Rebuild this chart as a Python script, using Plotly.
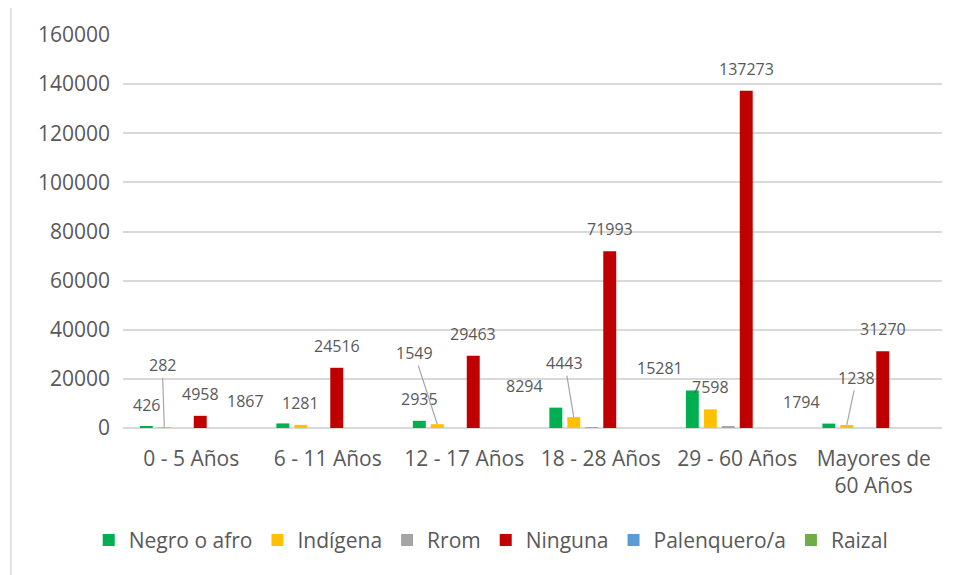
import plotly.graph_objects as go

# Categorías (grupos de edad)
categorias = ["0 - 5 Años", "6 - 11 Años", "12 - 17 Años", "18 - 28 Años",
              "29 - 60 Años", "Mayores de<br>60 Años"]

# Series por grupo étnico
negro_o_afro = [426, 1867, 2935, 8294, 15281, 1794]
indigena = [282, 1281, 1549, 4443, 7598, 1238]
rrom = [0, 0, 0, 200, 800, 0]
ninguna = [4958, 24516, 29463, 71993, 137273, 31270]
palenquero = [0, 0, 0, 0, 0, 0]
raizal = [0, 0, 0, 0, 0, 0]

series = [
    ("Negro o afro", negro_o_afro, "#00B050"),
    ("Indígena", indigena, "#FFC000"),
    ("Rrom", rrom, "#A5A5A5"),
    ("Ninguna", ninguna, "#C00000"),
    ("Palenquero/a", palenquero, "#5B9BD5"),
    ("Raizal", raizal, "#70AD47"),
]

# desplazamiento de etiquetas (px) respecto al extremo de la barra, como en Excel
negro_dx = [0, -37, 0, -31, -32, -27]
indig_dx = [-2, 0, -23, -9, 0, 10]
indig_dy = [-62, -22, -71, -54, -22, -47]
indig_leader = [True, False, True, True, False, True]

FONT = "Open Sans"
GRIS_TXT = "#595959"
BARGAP = 0.21

fig = go.Figure()
for name, vals, color in series:
    fig.add_trace(go.Bar(
        name=name, x=categorias, y=vals,
        marker=dict(color=color, line=dict(width=0)),
        hoverinfo="name+y",
    ))


def bar_x(i, k, n=6):
    slot = (1 - BARGAP) / n
    return i - (1 - BARGAP) / 2 + (k + 0.5) * slot


ann = []
lab_font = dict(family=FONT, size=16, color=GRIS_TXT)
for i in range(len(categorias)):
    # Negro o afro
    ann.append(dict(x=bar_x(i, 0), y=negro_o_afro[i], xref="x", yref="y",
                    text=str(negro_o_afro[i]), showarrow=False,
                    xshift=negro_dx[i], yshift=22, font=lab_font))
    # Indígena
    if indig_leader[i]:
        ann.append(dict(x=bar_x(i, 1), y=indigena[i], xref="x", yref="y",
                        text=str(indigena[i]), showarrow=True, arrowhead=0,
                        arrowwidth=1.2, arrowcolor="#A6A6A6", standoff=0,
                        ax=indig_dx[i], ay=indig_dy[i], font=lab_font))
    else:
        ann.append(dict(x=bar_x(i, 1), y=indigena[i], xref="x", yref="y",
                        text=str(indigena[i]), showarrow=False,
                        xshift=indig_dx[i], yshift=-indig_dy[i], font=lab_font))
    # Ninguna
    ann.append(dict(x=bar_x(i, 3), y=ninguna[i], xref="x", yref="y",
                    text=str(ninguna[i]), showarrow=False,
                    yshift=22, font=lab_font))

fig.update_layout(
    width=956, height=575,
    barmode="group", bargap=BARGAP, bargroupgap=0.28,
    paper_bgcolor="white", plot_bgcolor="white",
    margin=dict(l=115, r=22, t=25, b=155),
    font=dict(family=FONT, size=21, color=GRIS_TXT),
    showlegend=True,
    legend=dict(orientation="h", x=0.449, y=-0.286, xanchor="center",
                yanchor="middle", font=dict(size=21, color=GRIS_TXT),
                itemwidth=30, tracegroupgap=0),
    xaxis=dict(type="category", showgrid=False, showline=False, ticks="",
               ticklabelstandoff=16, tickfont=dict(size=21, color=GRIS_TXT)),
    yaxis=dict(range=[0, 160000], dtick=20000, showgrid=True,
               gridcolor="#D9D9D9", gridwidth=1.5, zeroline=True,
               zerolinecolor="#D9D9D9", zerolinewidth=1.5, showline=False,
               ticks="", ticklabelstandoff=12, tickformat="d",
               tickfont=dict(size=21, color=GRIS_TXT)),
    annotations=ann,
    shapes=[dict(type="rect", xref="paper", yref="paper",
                 x0=-0.1368, x1=1.05, y0=-0.5, y1=1.0734,
                 line=dict(color="#D9D9D9", width=1.5), layer="below")],
)

fig.write_html("out.html")
